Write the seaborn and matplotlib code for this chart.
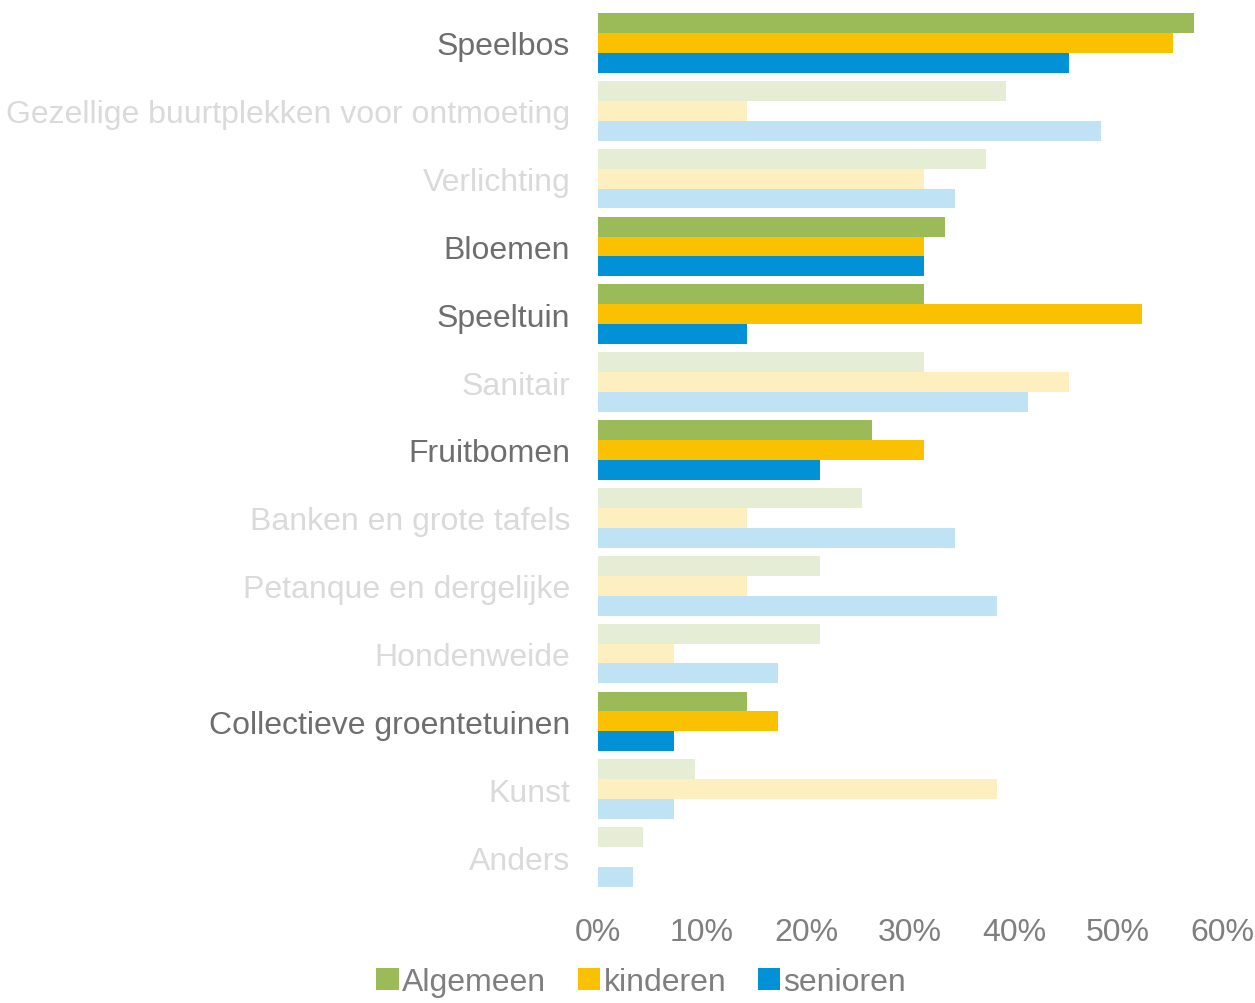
import matplotlib
matplotlib.use("Agg")
import matplotlib.pyplot as plt
import seaborn as sns
import pandas as pd
from matplotlib.patches import Patch
from matplotlib.ticker import PercentFormatter

categories = ["Speelbos", "Gezellige buurtplekken voor ontmoeting", "Verlichting",
              "Bloemen", "Speeltuin", "Sanitair", "Fruitbomen",
              "Banken en grote tafels", "Petanque en dergelijke", "Hondenweide",
              "Collectieve groentetuinen", "Kunst", "Anders"]
algemeen = [57.3, 39.2, 37.3, 33.4, 31.3, 31.3, 26.3, 25.4, 21.3, 21.3, 14.3, 9.3, 4.3]
kinderen = [55.3, 14.3, 31.3, 31.3, 52.3, 45.3, 31.3, 14.3, 14.3, 7.3, 17.3, 38.4, 0.0]
senioren = [45.3, 48.4, 34.3, 31.3, 14.3, 41.3, 21.3, 34.3, 38.4, 17.3, 7.3, 7.3, 3.4]
series = ["Algemeen", "kinderen", "senioren"]
highlighted = ["Speelbos", "Bloemen", "Speeltuin", "Fruitbomen", "Collectieve groentetuinen"]
colors = ["#9BBB59", "#FAC100", "#0091D6"]

df = pd.DataFrame({"categorie": categories, "Algemeen": algemeen,
                   "kinderen": kinderen, "senioren": senioren})
long = df.melt(id_vars="categorie", var_name="groep", value_name="waarde")

sns.set_theme(style="white")
plt.rcParams["font.family"] = ["Liberation Sans", "DejaVu Sans"]

fig = plt.figure(figsize=(12.55, 10.04), dpi=100)
ax = fig.add_axes([598/1255, 1 - 892/1004, (1222 - 598)/1255, (892 - 10)/1004])

sns.barplot(data=long, y="categorie", x="waarde", hue="groep", order=categories,
            hue_order=series, palette=colors, orient="h", width=0.88, gap=0,
            ax=ax, legend=False, saturation=1)

for cont in ax.containers:
    for cat, bar in zip(categories, cont):
        if cat not in highlighted:
            bar.set_alpha(0.25)
        bar.set_linewidth(0)

ax.set_xlim(0, 60)
ax.set_ylim(len(categories) - 0.5, -0.5)
ax.xaxis.set_major_formatter(PercentFormatter(decimals=0))
ax.set_xticks(range(0, 61, 10))
ax.set_xlabel("")
ax.set_ylabel("")
for s in ax.spines.values():
    s.set_visible(False)
ax.tick_params(axis="x", length=0, labelsize=23, labelcolor="#7F7F7F", pad=19)
ax.tick_params(axis="y", length=0, labelsize=23, pad=20)
for lab in ax.get_yticklabels():
    lab.set_color("#6E6E6E" if lab.get_text() in highlighted else "#DADADA")

handles = [Patch(facecolor=c, edgecolor="none") for c in colors]
leg = fig.legend(handles, series, loc="center", bbox_to_anchor=(0.511, 0.021),
                 ncol=3, frameon=False, fontsize=23, handlelength=0.7,
                 handleheight=0.7, handletextpad=0.1, columnspacing=1.0,
                 borderaxespad=0, borderpad=0)
for t in leg.get_texts():
    t.set_color("#7F7F7F")

fig.savefig("out.png", dpi=100)
